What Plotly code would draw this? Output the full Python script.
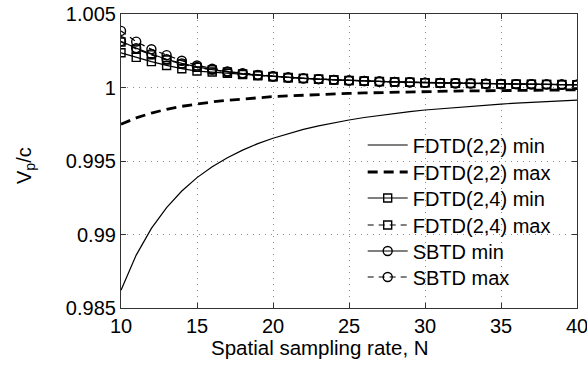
import plotly.graph_objects as go

N = list(range(10, 41))

fdtd22_min = [0.98620, 0.98860, 0.99042, 0.99183, 0.99296, 0.99387, 0.99461, 0.99522, 0.99574, 0.99618,
              0.99655, 0.99687, 0.99715, 0.99739, 0.99760, 0.99779, 0.99796, 0.99811, 0.99824, 0.99836,
              0.99847, 0.99856, 0.99865, 0.99873, 0.99881, 0.99887, 0.99894, 0.99899, 0.99904, 0.99909, 0.99914]
fdtd22_max = [0.99750, 0.99793, 0.99826, 0.99852, 0.99872, 0.99889, 0.99902, 0.99913, 0.99923, 0.99931,
              0.99938, 0.99943, 0.99948, 0.99953, 0.99957, 0.99960, 0.99963, 0.99966, 0.99968, 0.99970,
              0.99972, 0.99974, 0.99976, 0.99977, 0.99978, 0.99980, 0.99981, 0.99982, 0.99983, 0.99984, 0.99984]
tail = [1.00068, 1.00062, 1.00057, 1.00052, 1.00048, 1.00044, 1.00041, 1.00038, 1.00036, 1.00033,
        1.00031, 1.00029, 1.00028, 1.00026, 1.00024, 1.00023, 1.00022, 1.00021, 1.00020, 1.00019]
fdtd24_min = [1.00236, 1.00205, 1.00176, 1.00150, 1.00128, 1.00112, 1.00105, 1.00096, 1.00088, 1.00080,
              1.00073, 1.00066, 1.00061, 1.00056, 1.00051, 1.00047, 1.00043, 1.00040, 1.00037, 1.00035,
              1.00032, 1.00030, 1.00028, 1.00027, 1.00025, 1.00023, 1.00022, 1.00021, 1.00020, 1.00019, 1.00018]
fdtd24_max = [1.00310, 1.00262, 1.00222, 1.00187, 1.00160, 1.00137, 1.00120, 1.00105, 1.00093, 1.00083,
              1.00075] + tail
sbtd_min = [1.00315, 1.00268, 1.00228, 1.00192, 1.00164, 1.00140, 1.00122, 1.00106, 1.00094, 1.00084,
            1.00075] + tail
sbtd_max = [1.00385, 1.00312, 1.00260, 1.00220, 1.00182, 1.00150, 1.00128, 1.00110, 1.00097, 1.00086,
            1.00077] + tail

y_tickvals = [0.985, 0.99, 0.995, 1.0, 1.005]
y_ticktext = ["0.985", "0.99", "0.995", "1", "1.005"]
x_tickvals = [10, 15, 20, 25, 30, 35, 40]
x_title = "Spatial sampling rate, N"
y_title = "V<sub>p</sub>/c"

FONT = "Liberation Sans, Arial, sans-serif"
fig = go.Figure()

mk_sq = dict(symbol="square-open", size=8, color="black", line=dict(width=1.4, color="black"))
mk_ci = dict(symbol="circle-open", size=9, color="black", line=dict(width=1.4, color="black"))

fig.add_trace(go.Scatter(x=N, y=fdtd22_min, mode="lines", name="FDTD(2,2) min", legend="legend",
                         line=dict(color="black", width=1.2)))
fig.add_trace(go.Scatter(x=N, y=fdtd22_max, mode="lines", name="FDTD(2,2) max", legend="legend2",
                         line=dict(color="black", width=2.8, dash="10px,6px")))
fig.add_trace(go.Scatter(x=N, y=fdtd24_min, mode="lines+markers", name="FDTD(2,4) min", legend="legend3",
                         line=dict(color="black", width=1.2), marker=mk_sq))
fig.add_trace(go.Scatter(x=N, y=fdtd24_max, mode="lines+markers", name="FDTD(2,4) max", legend="legend4",
                         line=dict(color="black", width=1.2, dash="6px,5px"), marker=mk_sq))
fig.add_trace(go.Scatter(x=N, y=sbtd_min, mode="lines+markers", name="SBTD min", legend="legend5",
                         line=dict(color="black", width=1.2), marker=mk_ci))
fig.add_trace(go.Scatter(x=N, y=sbtd_max, mode="lines+markers", name="SBTD max", legend="legend6",
                         line=dict(color="black", width=1.2, dash="6px,5px"), marker=mk_ci))

axis_common = dict(showline=True, linecolor="#333", linewidth=1.2, mirror="ticks",
                   ticks="inside", ticklen=5, tickcolor="#333",
                   showgrid=True, gridcolor="#8a8a8a", griddash="1px,5px", gridwidth=1,
                   zeroline=False, automargin=False, ticklabeloverflow="allow",
                   tickfont=dict(family=FONT, size=20, color="black"))

fig.update_xaxes(range=[10, 40], tickvals=x_tickvals, **axis_common)
fig.update_yaxes(range=[0.985, 1.005], tickvals=y_tickvals, ticktext=y_ticktext, **axis_common)

fig.add_annotation(text=x_title, xref="paper", yref="paper",
                   x=(320 - 121) / 456, y=-(347 - 308) / 294, xanchor="center", yanchor="middle",
                   showarrow=False, font=dict(family=FONT, size=20.5, color="black"))
fig.add_annotation(text=y_title, xref="paper", yref="paper",
                   x=-(121 - 25) / 456, y=(308 - 166) / 294, xanchor="center", yanchor="middle",
                   textangle=-90, showarrow=False, font=dict(family=FONT, size=20, color="black"))

# white block behind the legend (legend area covers the grid in the reference)
fig.add_shape(type="rect", xref="paper", yref="paper", layer="between",
              x0=(358 - 121) / 456, x1=0.997, y0=(308 - 292) / 294, y1=(308 - 131) / 294,
              fillcolor="white", line=dict(width=0))

row_centers = [145, 172, 198, 225, 251, 277]
legend_layouts = {}
for i, rc in enumerate(row_centers):
    key = "legend" if i == 0 else f"legend{i + 1}"
    legend_layouts[key] = dict(x=0.53, y=(308 - rc) / 294, xanchor="left", yanchor="middle",
                               bgcolor="rgba(0,0,0,0)", borderwidth=0,
                               font=dict(family=FONT, size=20, color="black"), itemwidth=40)

fig.update_layout(
    width=587, height=365,
    margin=dict(l=121, r=10, t=14, b=57),
    plot_bgcolor="white", paper_bgcolor="white",
    font=dict(family=FONT, size=20, color="black"),
    showlegend=True,
    **legend_layouts,
)

fig.write_html("out.html")
